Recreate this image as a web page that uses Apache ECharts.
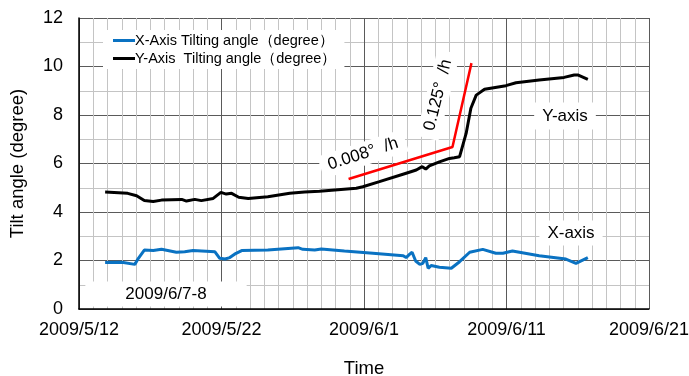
<!DOCTYPE html>
<html>
<head>
<meta charset="utf-8">
<script src="https://cdn.jsdelivr.net/npm/echarts@6/dist/echarts.min.js"></script>
<style>
  html, body { margin: 0; padding: 0; background: #fff; }
  #chart { width: 689px; height: 376px; }
</style>
</head>
<body>
<div id="chart"></div>
<script>
// Tilt meter readings, [time, degrees]
const xAxisTilt = [
  ['2009/5/13 20:00', 1.92], ['2009/5/15 00:00', 1.93], ['2009/5/15 22:00', 1.84],
  ['2009/5/16 04:00', 2.09], ['2009/5/16 14:00', 2.43], ['2009/5/17 05:00', 2.41],
  ['2009/5/17 19:00', 2.46], ['2009/5/18 20:00', 2.34], ['2009/5/19 10:00', 2.36],
  ['2009/5/20 00:00', 2.41], ['2009/5/21 13:00', 2.36], ['2009/5/21 21:00', 2.09],
  ['2009/5/22 06:00', 2.06], ['2009/5/22 14:00', 2.12], ['2009/5/22 22:00', 2.26],
  ['2009/5/23 10:00', 2.41], ['2009/5/25 06:00', 2.43], ['2009/5/27 09:00', 2.53],
  ['2009/5/27 17:00', 2.46], ['2009/5/28 13:00', 2.43], ['2009/5/29 00:00', 2.47],
  ['2009/5/30 15:00', 2.39], ['2009/6/1 15:00', 2.30], ['2009/6/3 18:00', 2.20],
  ['2009/6/3 23:00', 2.12], ['2009/6/4 05:00', 2.26], ['2009/6/4 09:00', 2.34],
  ['2009/6/4 15:00', 1.98], ['2009/6/4 22:00', 1.84], ['2009/6/5 03:00', 1.88],
  ['2009/6/5 08:00', 2.12], ['2009/6/5 12:00', 1.68], ['2009/6/5 17:00', 1.79],
  ['2009/6/6 07:00', 1.72], ['2009/6/7 03:00', 1.68], ['2009/6/7 17:00', 1.95],
  ['2009/6/8 10:00', 2.34], ['2009/6/9 08:00', 2.46], ['2009/6/10 06:00', 2.30],
  ['2009/6/10 18:00', 2.30], ['2009/6/11 10:00', 2.39], ['2009/6/13 07:00', 2.20],
  ['2009/6/15 04:00', 2.06], ['2009/6/15 21:00', 1.88], ['2009/6/16 17:00', 2.12]
];

const yAxisTilt = [
  ['2009/5/13 20:00', 4.82], ['2009/5/15 10:00', 4.77], ['2009/5/16 01:00', 4.67],
  ['2009/5/16 14:00', 4.47], ['2009/5/17 05:00', 4.43], ['2009/5/17 19:00', 4.49],
  ['2009/5/19 05:00', 4.52], ['2009/5/19 13:00', 4.45], ['2009/5/20 03:00', 4.52],
  ['2009/5/20 14:00', 4.47], ['2009/5/21 10:00', 4.56], ['2009/5/21 23:00', 4.81],
  ['2009/5/22 08:00', 4.74], ['2009/5/22 17:00', 4.77], ['2009/5/23 05:00', 4.61],
  ['2009/5/23 21:00', 4.56], ['2009/5/25 06:00', 4.63], ['2009/5/26 19:00', 4.77],
  ['2009/5/27 20:00', 4.82], ['2009/5/28 21:00', 4.86], ['2009/5/31 11:00', 4.98],
  ['2009/5/31 22:00', 5.04], ['2009/6/2 02:00', 5.25], ['2009/6/3 23:00', 5.60],
  ['2009/6/4 16:00', 5.73], ['2009/6/5 02:00', 5.87], ['2009/6/5 08:00', 5.77],
  ['2009/6/5 14:00', 5.90], ['2009/6/6 07:00', 6.07], ['2009/6/7 00:00', 6.21],
  ['2009/6/7 08:00', 6.24], ['2009/6/7 17:00', 6.28], ['2009/6/7 19:00', 6.35],
  ['2009/6/8 04:00', 7.24], ['2009/6/8 12:00', 8.28], ['2009/6/8 21:00', 8.82],
  ['2009/6/9 11:00', 9.06], ['2009/6/10 23:00', 9.21], ['2009/6/11 16:00', 9.33],
  ['2009/6/13 07:00', 9.44], ['2009/6/15 01:00', 9.55], ['2009/6/15 18:00', 9.65],
  ['2009/6/16 00:00', 9.65], ['2009/6/16 17:00', 9.47]
];

// Rate guide lines (0.008°/h, then 0.125°/h)
const rateGuide = [
  ['2009/5/30 22:00', 5.36], ['2009/6/7 05:00', 6.68], ['2009/6/8 13:00', 10.14]
];

const seriesNames = ['X-Axis Tilting angle（degree）', 'Y-Axis  Tilting angle（degree）'];
const timeRange = ['2009/5/12', '2009/6/21'];
const yTicks = [0, 2, 4, 6, 8, 10, 12];

const DAY = 86400000;
function toTime(s) {
  const [d, t] = s.split(' ');
  const [yy, mm, dd] = d.split('/').map(Number);
  const [hh, mi] = (t || '00:00').split(':').map(Number);
  return Date.UTC(yy, mm - 1, dd, hh, mi);
}
function fmtDate(v) {
  const d = new Date(v);
  return d.getUTCFullYear() + '/' + (d.getUTCMonth() + 1) + '/' + d.getUTCDate();
}
const pts = arr => arr.map(([t, v]) => [toTime(t), v]);

const font = 'Arial, "Liberation Sans", sans-serif';
const minorLine = { show: true, lineStyle: { color: '#c4c4c4', width: 1 } };
const majorLine = { show: true, lineStyle: { color: '#5a5a5a', width: 1 } };

const chart = echarts.init(document.getElementById('chart'), null, { renderer: 'canvas' });
chart.setOption({
  animation: false,
  backgroundColor: '#fff',
  textStyle: { fontFamily: font },
  grid: { left: 79, right: 40, top: 18, bottom: 67, show: false,
          containLabel: false, outerBoundsMode: 'none' },
  legend: {
    data: seriesNames,
    orient: 'vertical',
    left: 103, top: 30,
    backgroundColor: '#fff',
    padding: [3, 8, 3, 10],
    itemGap: 3,
    itemWidth: 22, itemHeight: 3,
    icon: 'rect',
    textStyle: { fontSize: 14.5, color: '#000', fontFamily: font, padding: [0, 0, 0, -5] }
  },
  xAxis: {
    type: 'value',
    min: toTime(timeRange[0]),
    max: toTime(timeRange[1]),
    interval: 10 * DAY,
    name: 'Time',
    nameLocation: 'middle',
    nameGap: 50,
    nameTextStyle: { fontSize: 18.5, color: '#000', fontFamily: font },
    axisLine: { show: true, onZero: false, lineStyle: { color: '#000', width: 1.5 } },
    axisTick: { show: false },
    minorTick: { show: true, splitNumber: 10, length: 0, lineStyle: { color: 'transparent' } },
    splitLine: majorLine,
    minorSplitLine: minorLine,
    axisLabel: { formatter: fmtDate, fontSize: 18, color: '#000', margin: 12, fontFamily: font }
  },
  yAxis: {
    type: 'value',
    min: yTicks[0],
    max: yTicks[yTicks.length - 1],
    interval: yTicks[1] - yTicks[0],
    name: 'Tilt angle (degree)',
    nameLocation: 'middle',
    nameGap: 52,
    nameTextStyle: { fontSize: 18.5, color: '#000', fontFamily: font },
    axisLine: { show: true, lineStyle: { color: '#000', width: 1.5 } },
    axisTick: { show: false },
    minorTick: { show: true, splitNumber: 2, length: 0, lineStyle: { color: 'transparent' } },
    splitLine: majorLine,
    minorSplitLine: minorLine,
    axisLabel: { fontSize: 18, color: '#000', margin: 16, fontFamily: font }
  },
  series: [
    {
      name: seriesNames[0], type: 'line', data: pts(xAxisTilt),
      showSymbol: false, symbol: 'none', color: '#0a72c2',
      lineStyle: { width: 3, color: '#0a72c2' }
    },
    {
      name: seriesNames[1], type: 'line', data: pts(yAxisTilt),
      showSymbol: false, symbol: 'none', color: '#000',
      lineStyle: { width: 3, color: '#000' }
    },
    {
      name: 'rate', type: 'line', data: pts(rateGuide),
      showSymbol: false, symbol: 'none', color: '#ff0000',
      lineStyle: { width: 2.5, color: '#ff0000' }, z: 3
    }
  ],
  graphic: [
    {
      type: 'text', x: 363, y: 154, rotation: 18 * Math.PI / 180, z: 10,
      style: { text: '0.008°  /h', fontSize: 17, fill: '#000', fontFamily: font,
               align: 'center', verticalAlign: 'middle', backgroundColor: '#fff', padding: [3, 8] }
    },
    {
      type: 'text', x: 438, y: 95, rotation: 76 * Math.PI / 180, z: 10,
      style: { text: '0.125°  /h', fontSize: 17, fill: '#000', fontFamily: font,
               align: 'center', verticalAlign: 'middle', backgroundColor: '#fff', padding: [3, 8] }
    },
    {
      type: 'text', x: 565, y: 116, z: 10,
      style: { text: 'Y-axis', fontSize: 17, fill: '#000', fontFamily: font,
               align: 'center', verticalAlign: 'middle', backgroundColor: '#fff', padding: [5, 8] }
    },
    {
      type: 'text', x: 571, y: 233, z: 10,
      style: { text: 'X-axis', fontSize: 17, fill: '#000', fontFamily: font,
               align: 'center', verticalAlign: 'middle', backgroundColor: '#fff', padding: [4, 8] }
    },
    {
      type: 'text', x: 166, y: 294, z: 10,
      style: { text: '2009/6/7-8', fontSize: 17, fill: '#000', fontFamily: font,
               align: 'center', verticalAlign: 'middle', backgroundColor: '#fff', padding: [4, 40] }
    }
  ]
});
</script>
</body>
</html>
